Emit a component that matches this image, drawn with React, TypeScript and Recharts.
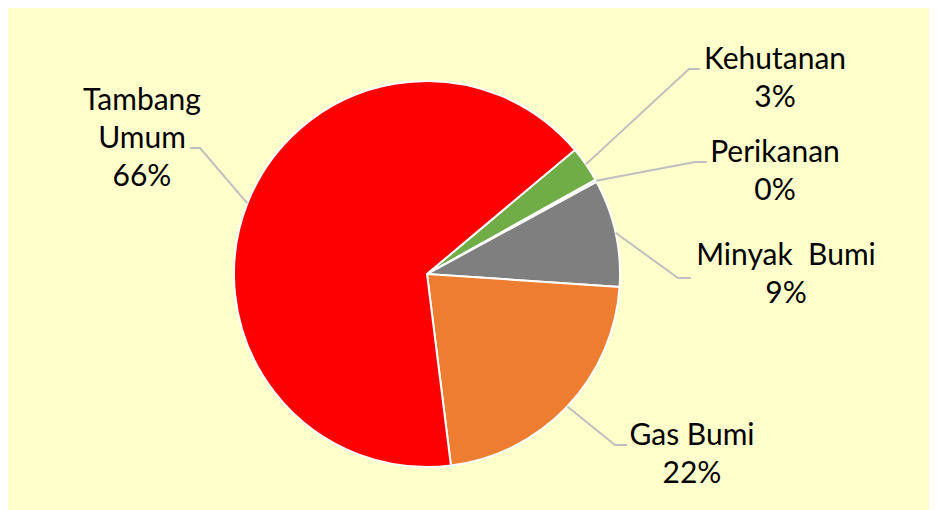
import { PieChart, Pie, Cell } from 'recharts'

const categories = ['Kehutanan', 'Perikanan', 'Minyak\u00a0 Bumi', 'Gas Bumi', 'Tambang Umum']
const values = [3, 0.2, 9, 22, 66]
const colors = ['#70AD47', '#A5A5A5', '#7F7F7F', '#ED7D31', '#FF0000']
// label text split into lines (last line is the percent)
const labelLines = [['Kehutanan'], ['Perikanan'], ['Minyak\u00a0 Bumi'], ['Gas Bumi'], ['Tambang', 'Umum']]

// leader line elbow / end and text block position, chart coords
const labelLayout = [
  { ex: 681, ey: 61, endX: 692, tx: 767, ty: 61 },
  { ex: 687, ey: 154, endX: 699, tx: 767, ty: 154 },
  { ex: 670, ey: 270, endX: 683, tx: 778, ty: 257 },
  { ex: 607, ey: 437, endX: 619, tx: 684, ty: 437 },
  { ex: 192, ey: 140, endX: 182, tx: 134, ty: 102 },
]

const data = categories.map((name, i) => ({ name, value: values[i] }))
const RAD = Math.PI / 180
const LINE_H = 38

function renderLabel(props: any) {
  const { cx, cy, midAngle, outerRadius, index, percent } = props
  const sx = cx + outerRadius * Math.cos(-midAngle * RAD)
  const sy = cy + outerRadius * Math.sin(-midAngle * RAD)
  const l = labelLayout[index]
  const lines = [...labelLines[index], Math.round(percent * 100) + '%']
  return (
    <g key={'lbl' + index}>
      <polyline points={`${sx},${sy} ${l.ex},${l.ey} ${l.endX},${l.ey}`} fill="none" stroke="#BFBFBF" strokeWidth={2} />
      <text x={l.tx} y={l.ty} textAnchor="middle" fill="#000" fontSize={30} fontFamily="Lato, 'Open Sans', sans-serif" style={{ whiteSpace: 'pre' }}>
        {lines.map((t, j) => (
          <tspan key={j} x={l.tx} y={l.ty + j * LINE_H}>{t}</tspan>
        ))}
      </text>
    </g>
  )
}

export default function App() {
  return (
    <div style={{ width: 929, height: 502, background: '#FFFFCC' }}>
      <PieChart width={929} height={502} margin={{ top: 0, right: 0, bottom: 0, left: 0 }}>
        <Pie
          data={data}
          dataKey="value"
          nameKey="name"
          cx={419}
          cy={266}
          outerRadius={193}
          startAngle={40}
          endAngle={-320}
          stroke="#FFFFFF"
          strokeWidth={2}
          label={renderLabel}
          labelLine={false}
          isAnimationActive={false}
        >
          {data.map((d, i) => (
            <Cell key={d.name} fill={colors[i]} />
          ))}
        </Pie>
      </PieChart>
    </div>
  )
}
